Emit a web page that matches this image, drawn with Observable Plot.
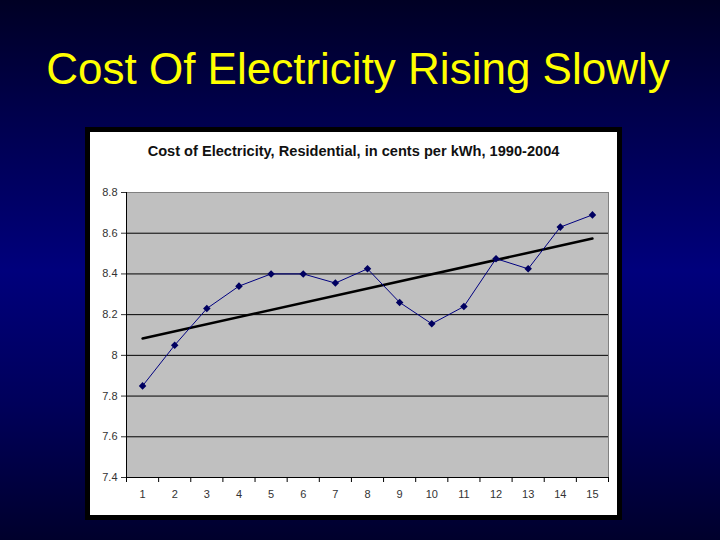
<!DOCTYPE html>
<html>
<head>
<meta charset="utf-8">
<script src="https://cdn.jsdelivr.net/npm/d3@7"></script>
<script src="https://cdn.jsdelivr.net/npm/@observablehq/plot@0.6"></script>
<style>
  html, body { margin: 0; padding: 0; }
  body {
    width: 720px; height: 540px; overflow: hidden; position: relative;
    background: linear-gradient(to bottom, #000024 0%, #00004a 20%, #00007c 50%, #00005a 75%, #00002c 100%);
    font-family: "Liberation Sans", Arial, sans-serif;
  }
  #slideTitle {
    position: absolute; left: 0; width: 716px; top: 47px;
    text-align: center; color: #ffff00; font-size: 44px; line-height: 44px;
  }
  #box {
    position: absolute; left: 85px; top: 127px; width: 527px; height: 383px;
    border: 5px solid #000; background: #fff;
  }
  #chartTitle {
    position: absolute; left: 0; width: 527px; top: 12px;
    text-align: center; font-weight: bold; font-size: 14.6px; line-height: 15px; color: #111;
  }
  #plot { position: absolute; left: 0; top: 0; }
</style>
</head>
<body>
<div id="slideTitle">Cost Of Electricity Rising Slowly</div>
<div id="box">
  <div id="plot"></div>
  <div id="chartTitle">Cost of Electricity, Residential, in cents per kWh, 1990-2004</div>
</div>
<script>
// Data
const categories = [1, 2, 3, 4, 5, 6, 7, 8, 9, 10, 11, 12, 13, 14, 15];
const cost = [7.85, 8.05, 8.23, 8.34, 8.40, 8.40, 8.355, 8.425, 8.26, 8.155, 8.24, 8.475, 8.425, 8.63, 8.69];
const yTicks = [7.4, 7.6, 7.8, 8.0, 8.2, 8.4, 8.6, 8.8];
const xTickLabels = ["1","2","3","4","5","6","7","8","9","10","11","12","13","14","15"];

const data = categories.map((c, i) => ({x: c, y: cost[i]}));
const boundaries = [categories[0] - 0.5, ...categories.map(c => c + 0.5)];
const innerGrid = yTicks.slice(1, -1);

const chart = Plot.plot({
  width: 527,
  height: 383,
  marginLeft: 36,
  marginRight: 9,
  marginTop: 60,
  marginBottom: 38,
  style: {background: "transparent", fontFamily: "'Liberation Sans', Arial, sans-serif"},
  x: {type: "linear", domain: [boundaries[0], boundaries[boundaries.length - 1]]},
  y: {type: "linear", domain: [yTicks[0], yTicks[yTicks.length - 1]]},
  marks: [
    Plot.frame({fill: "#c0c0c0", stroke: "#808080"}),
    Plot.gridY(innerGrid, {stroke: "#000", strokeOpacity: 1}),
    Plot.ruleX([boundaries[0]], {stroke: "#000"}),
    Plot.ruleY([yTicks[0]], {stroke: "#000"}),
    Plot.axisY({ticks: yTicks, tickFormat: d => (d === 8 ? "8" : d.toFixed(1)), tickSize: 5, tickPadding: 4, fontSize: 11, color: "#333", label: null}),
    Plot.axisX({ticks: boundaries, tickFormat: () => "", tickSize: 5, color: "#000", label: null}),
    Plot.axisX({ticks: categories, tickFormat: (d, i) => xTickLabels[i], tickSize: 0, tickPadding: 13, fontSize: 11, color: "#333", label: null}),
    Plot.linearRegressionY(data, {x: "x", y: "y", ci: 0, stroke: "#000", strokeWidth: 2.5}),
    Plot.line(data, {x: "x", y: "y", stroke: "#000080", strokeWidth: 1}),
    Plot.dot(data, {x: "x", y: "y", symbol: "diamond2", r: 3.4, fill: "#000060", stroke: "none"})
  ]
});
document.getElementById("plot").appendChild(chart);
</script>
</body>
</html>
